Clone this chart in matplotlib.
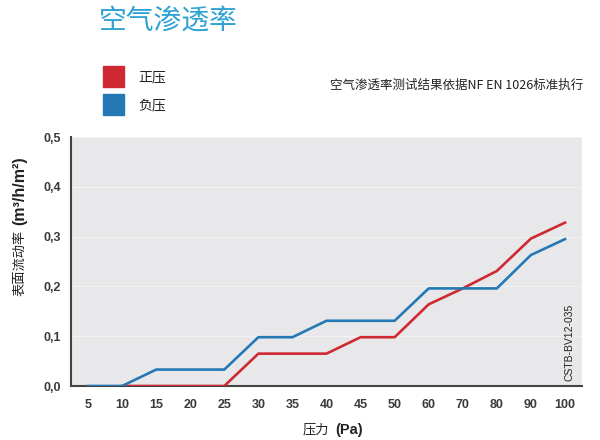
import matplotlib
matplotlib.use("Agg")
import matplotlib.pyplot as plt
import numpy as np

plt.rcParams['font.family'] = ['Noto Sans CJK SC', 'DejaVu Sans']

pressures = ["5", "10", "15", "20", "25", "30", "35", "40", "45", "50", "60", "70", "80", "90", "100"]
positive = [np.nan, 0.0, 0.0, 0.0, 0.0, 0.065, 0.065, 0.065, 0.098, 0.098, 0.164, 0.196, 0.231, 0.296, 0.328]
negative = [0.0, 0.0, 0.033, 0.033, 0.033, 0.098, 0.098, 0.131, 0.131, 0.131, 0.196, 0.196, 0.196, 0.263, 0.295]
yticks = [0.0, 0.1, 0.2, 0.3, 0.4, 0.5]
ytick_labels = ["0,0", "0,1", "0,2", "0,3", "0,4", "0,5"]

red = "#cf2a33"
blue = "#2479b5"

fig = plt.figure(figsize=(6, 4.4), dpi=100)
ax = fig.add_axes([0.1183, 0.1227, 0.8517, 0.5659])
ax.set_facecolor("#e8e8eb")

x = np.arange(len(pressures))
ax.plot(x, positive, color=red, lw=1.9, zorder=3)
ax.plot(x, negative, color=blue, lw=1.9, zorder=3)

ax.set_xlim(-0.5, 14.5)
ax.set_ylim(0, 0.5)
ax.set_xticks(x)
ax.set_xticklabels(pressures)
ax.set_yticks(yticks)
ax.set_yticklabels(ytick_labels)
ax.tick_params(axis='both', length=0, labelsize=9, colors="#3a3a3a")
ax.tick_params(axis='x', pad=9)
ax.tick_params(axis='y', pad=7)
for lab in ax.get_xticklabels() + ax.get_yticklabels():
    lab.set_family(["Liberation Sans"])
    lab.set_fontweight("bold")
for y in yticks[1:]:
    ax.axhline(y, color="#f2f2f2", lw=0.8, zorder=1)
for s in ["top", "right"]:
    ax.spines[s].set_visible(False)
ax.spines["left"].set_color("#444444")
ax.spines["bottom"].set_color("#444444")
ax.spines["left"].set_linewidth(1.5)
ax.spines["bottom"].set_linewidth(1.5)

# x axis label
fig.text(329/600, 1 - 430/440, "压力", fontsize=9.5, color="#222222", ha="right", va="center")
fig.text(335/600, 1 - 430/440, "(Pa)", fontsize=10.5, color="#222222", ha="left", va="center",
         family=["Liberation Sans"], fontweight="bold")
# y axis label
fig.text(20/600, 1 - 296/440, "表面流动率", fontsize=9.5, color="#222222", ha="center", va="bottom",
         rotation=90)
fig.text(20/600, 1 - 225/440, "(m³/h/m²)", fontsize=11.5, color="#222222", ha="center", va="bottom",
         rotation=90, family=["Liberation Sans"], fontweight="bold")

ax.text(0.985, 0.02, "CSTB-BV12-035", transform=ax.transAxes, rotation=90,
        ha="right", va="bottom", fontsize=7.5, color="#222222", family=["Liberation Sans"])

fig.text(99/600, 1 - 22/440, "空气渗透率", fontsize=20, color="#2ea2d2", ha="left", va="center")

fig.patches.append(plt.Rectangle((103/600, 1 - 87/440), 21/600, 21/440,
                                 transform=fig.transFigure, color=red, figure=fig))
fig.patches.append(plt.Rectangle((103/600, 1 - 115/440), 21/600, 21/440,
                                 transform=fig.transFigure, color=blue, figure=fig))
fig.text(138/600, 1 - 77/440, "正压", fontsize=10, color="#222222", ha="left", va="center")
fig.text(138/600, 1 - 105/440, "负压", fontsize=10, color="#222222", ha="left", va="center")

fig.text(583/600, 1 - 85/440, "空气渗透率测试结果依据NF EN 1026标准执行", fontsize=9,
         color="#222222", ha="right", va="center")

fig.savefig("out.png", dpi=100, facecolor="white")
